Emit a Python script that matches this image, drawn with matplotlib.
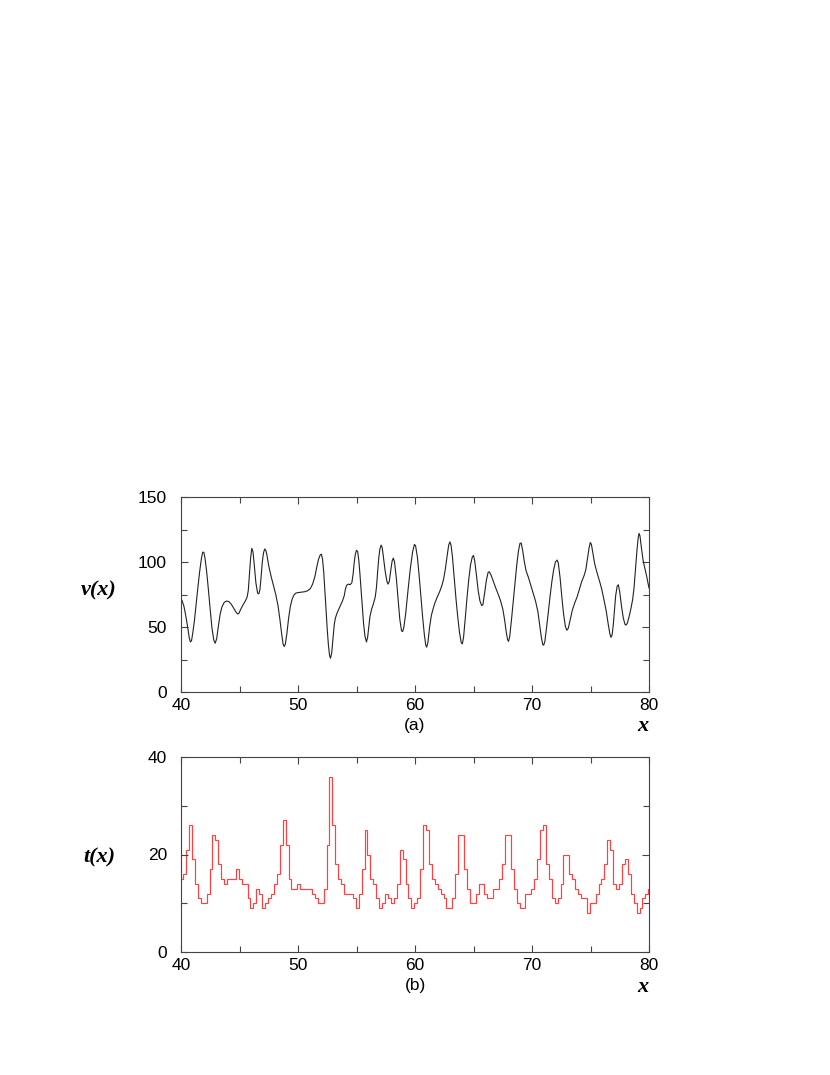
import numpy as np
import matplotlib
matplotlib.use("Agg")
import matplotlib.pyplot as plt
from matplotlib.ticker import MultipleLocator

# ---- data: panel (a), v(x) ----
v_x = [40.0, 40.1, 40.25, 40.4, 40.55, 40.7, 40.8, 40.9, 41.0, 41.15, 41.3, 41.45, 41.6,
       41.75, 41.85, 41.95, 42.05, 42.2, 42.35, 42.5, 42.65, 42.8, 42.92, 43.05, 43.2,
       43.35, 43.5, 43.7, 43.9, 44.1, 44.3, 44.5, 44.7, 44.85, 44.95, 45.1, 45.3, 45.5,
       45.65, 45.75, 45.85, 45.95, 46.05, 46.15, 46.25, 46.4, 46.55, 46.65, 46.75, 46.85,
       46.95, 47.05, 47.15, 47.25, 47.35, 47.5, 47.7, 47.9, 48.1, 48.3, 48.45, 48.6,
       48.72, 48.82, 48.92, 49.05, 49.2, 49.35, 49.5, 49.65, 49.8, 50.0, 50.3, 50.6,
       50.85, 51.05, 51.25, 51.45, 51.6, 51.75, 51.9, 52.0, 52.1, 52.2, 52.3, 52.4, 52.5,
       52.6, 52.7, 52.78, 52.88, 53.0, 53.1, 53.2, 53.35, 53.5, 53.65, 53.8, 53.95, 54.05,
       54.15, 54.3, 54.45, 54.6, 54.7, 54.8, 54.9, 55.0, 55.1, 55.2, 55.3, 55.45, 55.6,
       55.72, 55.85, 55.95, 56.05, 56.15, 56.3, 56.45, 56.6, 56.7, 56.8, 56.9, 57.0, 57.1,
       57.2, 57.3, 57.45, 57.6, 57.7, 57.8, 57.95, 58.05, 58.15, 58.25, 58.4, 58.55, 58.7,
       58.85, 58.95, 59.05, 59.2, 59.4, 59.6, 59.8, 59.95, 60.05, 60.2, 60.35, 60.5, 60.65,
       60.8, 60.92, 61.0, 61.1, 61.25, 61.4, 61.55, 61.7, 61.9, 62.1, 62.3, 62.45, 62.6,
       62.75, 62.88, 62.98, 63.08, 63.2, 63.35, 63.5, 63.65, 63.8, 63.95, 64.05, 64.15,
       64.3, 64.45, 64.6, 64.75, 64.9, 65.0, 65.1, 65.25, 65.4, 65.55, 65.7, 65.8, 65.95,
       66.1, 66.25, 66.35, 66.5, 66.7, 66.9, 67.1, 67.3, 67.5, 67.65, 67.8, 67.92, 68.0,
       68.1, 68.25, 68.4, 68.55, 68.7, 68.85, 68.98, 69.08, 69.2, 69.35, 69.5, 69.7, 69.9,
       70.1, 70.3, 70.5, 70.65, 70.8, 70.92, 71.0, 71.1, 71.25, 71.4, 71.55, 71.7, 71.85,
       72.0, 72.15, 72.25, 72.4, 72.55, 72.7, 72.85, 72.98, 73.1, 73.25, 73.45, 73.65,
       73.85, 74.05, 74.25, 74.45, 74.6, 74.75, 74.88, 74.98, 75.08, 75.2, 75.35, 75.55,
       75.75, 75.95, 76.15, 76.35, 76.5, 76.65, 76.75, 76.85, 76.95, 77.05, 77.15, 77.28,
       77.38, 77.5, 77.65, 77.8, 77.95, 78.05, 78.15, 78.3, 78.45, 78.6, 78.72, 78.85,
       78.98, 79.08, 79.15, 79.23, 79.35, 79.5, 79.65, 79.8, 80.0]
v_val = [72, 70, 66, 59, 51, 42, 38.5, 39.5, 45, 55, 68, 81, 93,
         103, 107.5, 107.5, 103, 92, 78, 63, 49, 40, 37.5, 41, 51,
         60, 65.5, 69, 70, 69.5, 67.5, 64.5, 61.5, 60, 60.5, 63.5, 67, 70,
         73, 78, 90, 103, 110.5, 108, 99, 84, 76, 75.5, 79, 89,
         100, 107, 110, 109, 105, 97, 89, 82, 75, 66, 56, 45,
         37, 35, 37, 45, 57, 66, 71.5, 74.5, 76, 76.5, 76.8, 77.2,
         78, 79.5, 83, 89, 96, 102, 105.5, 106, 102, 92, 78, 63, 48,
         36, 28, 26, 30, 42, 52, 57, 61, 64, 67, 70, 74, 79,
         82, 83, 82.5, 84, 90, 99, 106, 109, 108, 101, 90, 72, 53,
         43, 38.5, 42, 50, 58, 64, 68, 73, 80, 92, 103, 110, 113,
         111, 104, 93, 85, 83, 85, 95, 101, 103, 100, 88, 72, 56,
         47, 46.5, 50, 60, 78, 95, 108, 113.5, 112.5, 104, 90, 74, 58,
         44, 36, 34.5, 38, 50, 59, 64, 68.5, 73, 77, 82, 87, 95,
         105, 113, 115.5, 113, 104, 88, 72, 58, 46, 38, 37, 42,
         57, 73, 87, 98, 104, 105, 101, 90, 78, 70, 66.5, 67, 76,
         86, 92, 92.5, 90, 85, 80, 75.5, 70.5, 64, 56, 46, 40, 39,
         43, 56, 70, 84, 98, 109, 114.5, 114.5, 109, 100, 93, 88, 82,
         76, 70, 62, 52, 42, 36.5, 36, 39, 50, 62, 74, 85, 94,
         100, 101.5, 99, 88, 73, 60, 50.5, 47.5, 49, 55, 63, 68.5,
         73, 79, 85, 89.5, 94, 103, 111, 115, 113.5, 107, 99, 92,
         86, 79.5, 71, 62, 53, 45, 42, 44, 52, 63, 74, 81.5,
         82.5, 77, 66, 57, 52, 51.5, 53, 58, 64, 71, 80, 95,
         110, 119, 122, 120, 111, 101, 95, 89, 80]

# ---- data: panel (b), t(x) step values (bins of width 0.25) ----
t_start = 39.94
t_width = 0.25
t_val = [15, 16, 21, 26, 19, 14, 11, 10, 10, 12, 17, 24, 23, 18, 15, 14, 15, 15, 15, 17,
         15, 14, 14, 11, 9, 10, 13, 12, 9, 10, 11, 12, 14, 16, 22, 27, 22, 15, 13, 13,
         14, 13, 13, 13, 13, 12, 11, 10, 10, 13, 22, 36, 26, 18, 15, 14, 12, 12, 12, 11,
         9, 12, 17, 25, 20, 15, 14, 11, 9, 10, 12, 11, 10, 11, 14, 21, 19, 14, 11, 9,
         10, 11, 17, 26, 25, 18, 15, 14, 13, 12, 11, 9, 9, 11, 16, 24, 24, 17, 13, 10,
         10, 12, 14, 14, 12, 11, 11, 13, 13, 15, 18, 24, 24, 17, 13, 10, 9, 9, 12, 12,
         13, 15, 19, 25, 26, 18, 15, 11, 10, 11, 14, 20, 20, 16, 15, 13, 12, 11, 11, 8,
         10, 10, 12, 14, 15, 18, 23, 21, 14, 13, 14, 18, 19, 16, 12, 10, 8, 9, 11, 12, 13]

W, H = 830, 1075
fig = plt.figure(figsize=(W / 100, H / 100), dpi=100)

tick_family = ["Liberation Sans", "DejaVu Sans"]
tick_size = 12.5
lab_font = dict(family=["Liberation Serif", "DejaVu Serif"], style="italic", weight="bold", size=16)

def style_axes(ax, ymaj, ymin):
    ax.xaxis.set_major_locator(MultipleLocator(10))
    ax.xaxis.set_minor_locator(MultipleLocator(5))
    ax.yaxis.set_major_locator(MultipleLocator(ymaj))
    ax.yaxis.set_minor_locator(MultipleLocator(ymin))
    ax.tick_params(which="both", direction="in", top=True, right=True, color="#444444")
    ax.tick_params(which="major", length=5, width=0.8)
    ax.tick_params(which="minor", length=4, width=0.8)
    ax.tick_params(axis="y", which="major", pad=10)
    ax.tick_params(axis="x", which="major", pad=4)
    for lab in ax.get_xticklabels() + ax.get_yticklabels():
        lab.set_fontfamily(tick_family)
        lab.set_fontsize(tick_size)
    for s in ax.spines.values():
        s.set_linewidth(0.8)
        s.set_color("#444444")

def px_rect(l, t, r, b):
    return [l / W, 1 - b / H, (r - l) / W, (b - t) / H]

ax1 = fig.add_axes(px_rect(181, 497, 649, 692))
ax1.plot(v_x, v_val, color="#222222", lw=0.8)
ax1.set_xlim(40, 80)
ax1.set_ylim(0, 150)
style_axes(ax1, 50, 25)
ax1.text(-0.175, 0.52, "v(x)", transform=ax1.transAxes, ha="center", va="center", **lab_font)
ax1.text(0.987, -0.175, "x", transform=ax1.transAxes, ha="center", va="center", **lab_font)
ax1.text(0.5, -0.17, "(a)", transform=ax1.transAxes, ha="center", va="center",
         family=tick_family, size=tick_size)

ax2 = fig.add_axes(px_rect(181, 757, 649, 952))
edges = t_start + t_width * np.arange(len(t_val) + 1)
ax2.stairs(t_val, edges, baseline=None, color="#ff4040", lw=0.85)
ax2.set_xlim(40, 80)
ax2.set_ylim(0, 40)
style_axes(ax2, 20, 10)
ax2.text(-0.175, 0.485, "t(x)", transform=ax2.transAxes, ha="center", va="center", **lab_font)
ax2.text(0.987, -0.18, "x", transform=ax2.transAxes, ha="center", va="center", **lab_font)
ax2.text(0.5, -0.172, "(b)", transform=ax2.transAxes, ha="center", va="center",
         family=tick_family, size=tick_size)

fig.savefig("out.png", dpi=100)
